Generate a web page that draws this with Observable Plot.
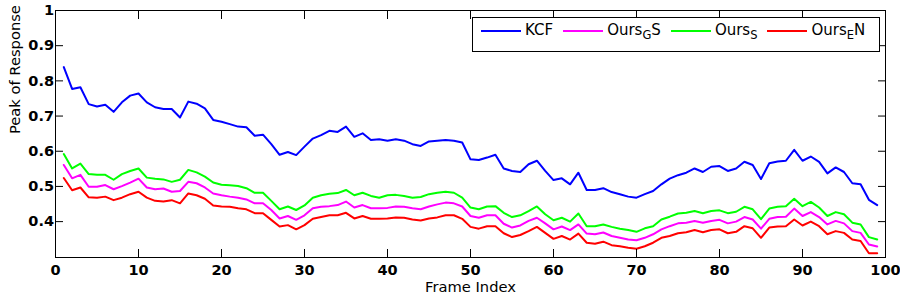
<!DOCTYPE html>
<html>
<head>
<meta charset="utf-8">
<script src="https://cdn.jsdelivr.net/npm/d3@7"></script>
<script src="https://cdn.jsdelivr.net/npm/@observablehq/plot@0.6"></script>
<style>
  body { margin: 0; background: #fff; }
  #wrap { position: relative; width: 900px; height: 300px; }
  #legend {
    position: absolute; left: 472px; top: 17px; width: 408px; height: 35px;
    box-sizing: border-box; border: 1px solid #000; background: #fff;
    display: flex; align-items: flex-start; gap: 10px;
    padding: 4px 0 0 8px;
    font-family: "DejaVu Sans", sans-serif; font-size: 15px; line-height: 17px; color: #000;
  }
  .item { display: flex; align-items: center; gap: 4px; white-space: nowrap; }
  .sw { width: 40px; height: 2px; }
  .item sub { font-size: 11.5px; line-height: 0; vertical-align: -4px; }
</style>
</head>
<body>
<div id="wrap"></div>
<script>
const frames = [1,2,3,4,5,6,7,8,9,10,11,12,13,14,15,16,17,18,19,20,21,22,23,24,25,26,27,28,29,30,31,32,33,34,35,36,37,38,39,40,41,42,43,44,45,46,47,48,49,50,51,52,53,54,55,56,57,58,59,60,61,62,63,64,65,66,67,68,69,70,71,72,73,74,75,76,77,78,79,80,81,82,83,84,85,86,87,88,89,90,91,92,93,94,95,96,97,98,99];

const kcf = [0.839,0.777,0.782,0.734,0.727,0.732,0.712,0.739,0.758,0.764,0.739,0.725,0.720,0.720,0.696,0.741,0.735,0.722,0.689,0.684,0.677,0.670,0.668,0.644,0.647,0.620,0.590,0.598,0.589,0.613,0.636,0.646,0.658,0.655,0.670,0.641,0.651,0.632,0.634,0.630,0.634,0.630,0.620,0.615,0.628,0.630,0.632,0.630,0.625,0.577,0.575,0.582,0.590,0.551,0.544,0.541,0.563,0.573,0.544,0.518,0.523,0.506,0.539,0.490,0.490,0.495,0.484,0.478,0.471,0.468,0.478,0.487,0.506,0.522,0.532,0.539,0.551,0.541,0.556,0.558,0.544,0.551,0.570,0.561,0.521,0.566,0.571,0.573,0.604,0.573,0.585,0.570,0.537,0.554,0.541,0.509,0.506,0.462,0.447];

const oursGS = [0.561,0.523,0.533,0.499,0.499,0.504,0.492,0.501,0.511,0.522,0.497,0.492,0.494,0.485,0.487,0.513,0.509,0.497,0.480,0.475,0.471,0.468,0.463,0.452,0.452,0.433,0.409,0.416,0.405,0.418,0.438,0.442,0.444,0.447,0.457,0.440,0.447,0.438,0.438,0.439,0.443,0.442,0.438,0.435,0.443,0.449,0.454,0.452,0.443,0.416,0.411,0.418,0.418,0.394,0.383,0.389,0.402,0.411,0.395,0.378,0.386,0.376,0.392,0.366,0.364,0.369,0.359,0.354,0.349,0.347,0.354,0.364,0.378,0.387,0.395,0.397,0.402,0.397,0.402,0.405,0.395,0.400,0.413,0.406,0.380,0.408,0.413,0.414,0.437,0.416,0.427,0.413,0.392,0.402,0.395,0.373,0.368,0.335,0.329];

const oursS = [0.592,0.551,0.565,0.535,0.533,0.533,0.519,0.535,0.544,0.551,0.525,0.522,0.520,0.513,0.519,0.547,0.540,0.528,0.511,0.505,0.503,0.501,0.495,0.482,0.482,0.459,0.435,0.443,0.433,0.446,0.468,0.475,0.479,0.481,0.490,0.475,0.482,0.473,0.468,0.475,0.476,0.473,0.468,0.470,0.478,0.482,0.485,0.482,0.468,0.440,0.435,0.443,0.444,0.425,0.413,0.418,0.430,0.443,0.421,0.404,0.411,0.400,0.423,0.387,0.387,0.392,0.385,0.380,0.376,0.371,0.381,0.387,0.406,0.414,0.423,0.425,0.430,0.424,0.430,0.432,0.424,0.428,0.442,0.435,0.407,0.437,0.442,0.444,0.465,0.444,0.456,0.440,0.416,0.427,0.421,0.397,0.392,0.356,0.349];

const oursEN = [0.524,0.489,0.497,0.469,0.468,0.471,0.461,0.468,0.478,0.485,0.468,0.459,0.457,0.461,0.452,0.480,0.475,0.465,0.446,0.443,0.442,0.438,0.435,0.424,0.424,0.405,0.386,0.390,0.378,0.390,0.408,0.413,0.418,0.418,0.425,0.409,0.416,0.408,0.408,0.409,0.412,0.411,0.406,0.403,0.409,0.412,0.418,0.418,0.408,0.385,0.380,0.387,0.387,0.367,0.356,0.362,0.373,0.385,0.368,0.351,0.359,0.349,0.366,0.340,0.337,0.343,0.333,0.330,0.326,0.323,0.330,0.340,0.354,0.359,0.367,0.370,0.376,0.370,0.376,0.378,0.367,0.371,0.387,0.381,0.354,0.383,0.386,0.387,0.406,0.389,0.400,0.387,0.364,0.373,0.368,0.349,0.345,0.310,0.310];

const seriesNames = ["KCF", "OursGS", "OursS", "OursEN"];
const seriesLabels = ["KCF", "Ours<sub>G</sub>S", "Ours<sub>S</sub>", "Ours<sub>E</sub>N"];
const seriesColors = ["#0000ff", "#ff00ff", "#00ff00", "#ff0000"];
const xTicks = [0, 10, 20, 30, 40, 50, 60, 70, 80, 90, 100];
const yTicks = [0.4, 0.5, 0.6, 0.7, 0.8, 0.9, 1];
const xLabel = "Frame Index";
const yLabel = "Peak of Response";

const rows = [];
[kcf, oursGS, oursS, oursEN].forEach((vals, i) => {
  vals.forEach((v, j) => rows.push({series: seriesNames[i], frame: frames[j], value: v}));
});

const yFmt = d => (d === 1 ? "1" : d.toFixed(1));

const chart = Plot.plot({
  width: 900,
  height: 300,
  marginLeft: 55,
  marginRight: 15,
  marginTop: 10,
  marginBottom: 43,
  style: {fontFamily: "'DejaVu Sans', sans-serif", fontSize: "14.5px", fontWeight: "bold", background: "#fff", color: "#000", overflow: "visible"},
  x: {domain: [0, 100], axis: null},
  y: {domain: [0.298, 1], axis: null},
  color: {domain: seriesNames, range: seriesColors},
  marks: [
    Plot.line(rows, {x: "frame", y: "value", z: "series", stroke: "series", strokeWidth: 2}),
    Plot.frame({stroke: "#000", strokeWidth: 1}),
    Plot.axisX(xTicks, {anchor: "bottom", tickSize: -8, tickPadding: 15, tickFormat: d => String(d), label: null, stroke: "#000", fill: "#000"}),
    Plot.axisX(xTicks, {anchor: "top", tickSize: -8, tickFormat: () => "", label: null, stroke: "#000"}),
    Plot.axisY(yTicks, {anchor: "left", tickSize: -8, tickPadding: 9.5, tickFormat: yFmt, label: null, stroke: "#000", fill: "#000"}),
    Plot.axisY(yTicks, {anchor: "right", tickSize: -8, tickFormat: () => "", label: null, stroke: "#000"}),
    Plot.text([xLabel], {text: d => d, frameAnchor: "bottom", dy: 30, lineAnchor: "middle", fontWeight: "normal", fontSize: 14.7, fill: "#000"}),
    Plot.text([yLabel], {text: d => d, frameAnchor: "left", rotate: -90, dx: -40, lineAnchor: "middle", fontWeight: "normal", fontSize: 14.7, fill: "#000"})
  ]
});

const wrap = document.getElementById("wrap");
wrap.appendChild(chart);

const legend = document.createElement("div");
legend.id = "legend";
seriesNames.forEach((name, i) => {
  const item = document.createElement("div");
  item.className = "item";
  const sw = document.createElement("span");
  sw.className = "sw";
  sw.style.background = seriesColors[i];
  const label = document.createElement("span");
  label.innerHTML = seriesLabels[i];
  item.appendChild(sw);
  item.appendChild(label);
  legend.appendChild(item);
});
wrap.appendChild(legend);
</script>
</body>
</html>
